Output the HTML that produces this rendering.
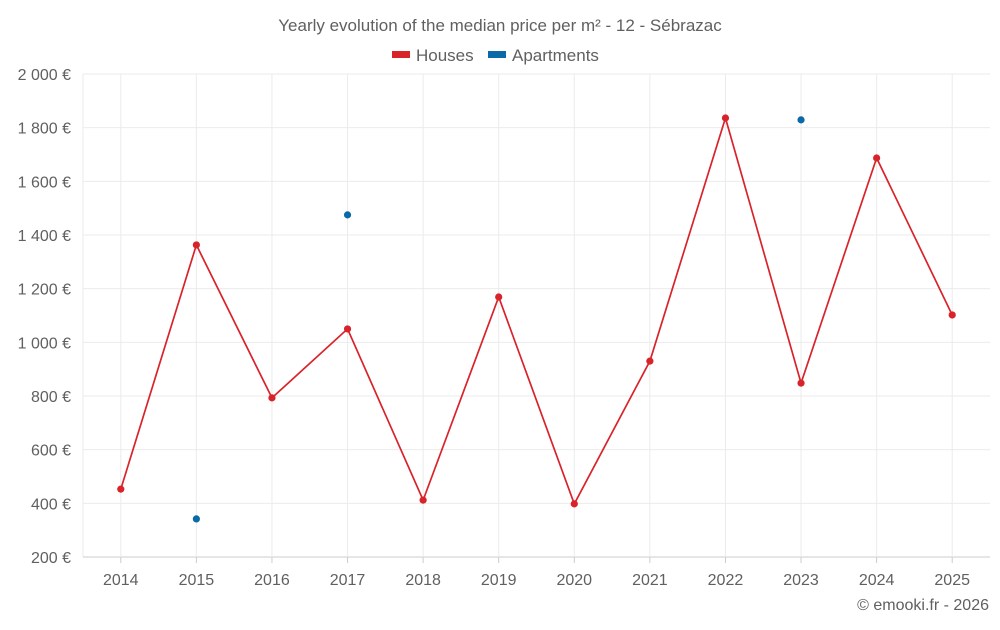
<!DOCTYPE html>
<html><head><meta charset="utf-8"><style>
body{margin:0;background:#fff;font-family:"Liberation Sans",sans-serif;}
svg text{font-family:"Liberation Sans",sans-serif;fill:#606060;}
</style></head><body>
<svg id="chart" width="1000" height="625">
<text x="500" y="31" text-anchor="middle" font-size="17">Yearly evolution of the median price per m² - 12 - Sébrazac</text>
<g>
<g><rect x="392" y="51" width="18" height="7" fill="#d9232a"/><text x="416" y="61" font-size="17">Houses</text></g>
<g><rect x="488" y="51" width="18" height="7" fill="#0a6aa8"/><text x="512" y="61" font-size="17">Apartments</text></g>
</g>
<g id="grid"></g><g id="axes"></g><g id="marks"></g>
<text x="989" y="610" text-anchor="end" font-size="16">© emooki.fr - 2026</text>
</svg>
<script>
const years=["2014","2015","2016","2017","2018","2019","2020","2021","2022","2023","2024","2025"];
const houses=[453,1363,793,1050,412,1169,398,930,1836,848,1687,1102];
const apartments=[null,342,null,1475,null,null,null,null,null,1829,null,null];
const yTicks=[200,400,600,800,1000,1200,1400,1600,1800,2000];
const ns="http://www.w3.org/2000/svg";
const L=83,R=990,T=74,B=557,yMin=200,yMax=2000;
const step=(R-L)/years.length;
const x=i=>L+step*(i+0.5);
const y=v=>B-(v-yMin)/(yMax-yMin)*(B-T);
function mk(tag,attrs,parent){const e=document.createElementNS(ns,tag);for(const k in attrs)e.setAttribute(k,attrs[k]);parent.appendChild(e);return e;}
const grid=document.getElementById('grid'),axes=document.getElementById('axes'),marks=document.getElementById('marks');
const lb=mk('line',{x1:L,x2:L,y1:T,y2:B,stroke:'#ebebeb'},grid);


yTicks.forEach(v=>{
 const l=mk('line',{x1:L,x2:R,y1:y(v),y2:y(v),stroke:v===yMin?'#ccc':'#ebebeb'},grid);
 
 
 const t=mk('text',{x:71,y:y(v)+6,'text-anchor':'end','font-size':16},axes);
 t.textContent=v.toLocaleString('fr-FR').replace(/\s/g,' ')+' €';
 
 
});
years.forEach((yr,i)=>{
 const l=mk('line',{x1:x(i),x2:x(i),y1:T,y2:B,stroke:'#ebebeb'},grid);
 
 
 const tk=mk('line',{x1:x(i),x2:x(i),y1:B,y2:B+6,stroke:'#ccc'},grid);
 
 
 const t=mk('text',{x:x(i),y:585,'text-anchor':'middle','font-size':16},axes);
 t.textContent=yr;
 
 
});
const pts=houses.map((v,i)=>x(i)+','+y(v)).join(' ');
const pl=mk('polyline',{points:pts,fill:'none',stroke:'#d9232a','stroke-width':1.7},marks);


houses.forEach((v,i)=>{
 const c=mk('circle',{cx:x(i),cy:y(v),r:3.6,fill:'#d9232a'},marks);
 
 
});
apartments.forEach((v,i)=>{
 if(v==null)return;
 const c=mk('circle',{cx:x(i),cy:y(v),r:3.6,fill:'#0a6aa8'},marks);
 
 
});
</script>
</body></html>
